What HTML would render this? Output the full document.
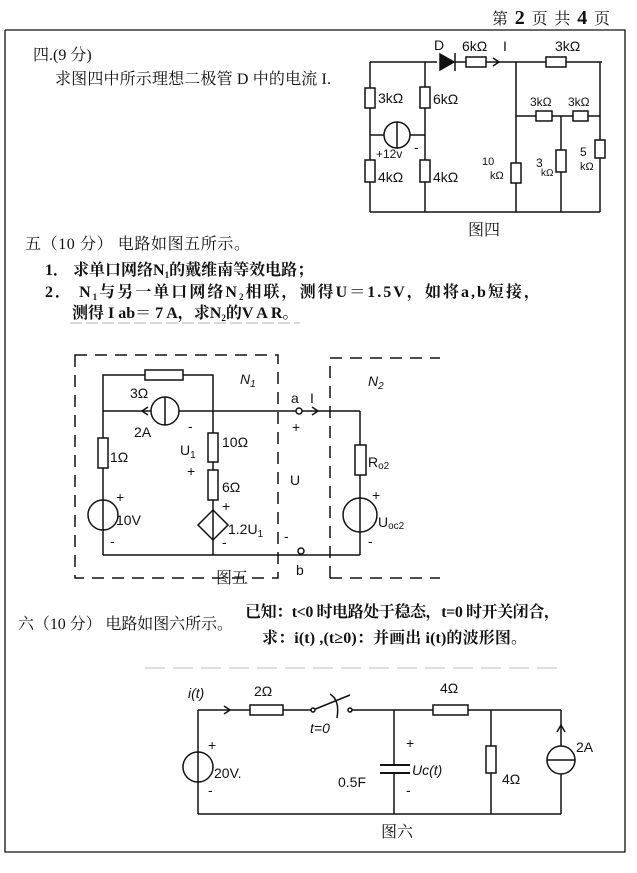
<!DOCTYPE html>
<html><head><meta charset="utf-8"><style>
html,body{margin:0;padding:0;background:#fff}
svg{display:block}
.t{font-family:"Liberation Serif","Noto Serif CJK SC","Noto Sans CJK SC",serif;font-size:16px;fill:#111}
.h{font-family:"Liberation Sans","Noto Sans CJK SC",sans-serif;font-size:14px;fill:#111}
</style></head><body>
<svg width="637" height="873" viewBox="0 0 637 873" xmlns="http://www.w3.org/2000/svg">
<g stroke="#111" stroke-width="1.5" fill="none">
<polyline points="5,30 625,30 625,852 5,852 5,30" stroke-width="1.3"/>
</g>
<text class="t" x="492" y="24" font-size="15" textLength="118">第 <tspan font-size="20" font-weight="bold">2</tspan> 页  共 <tspan font-size="20" font-weight="bold">4</tspan> 页</text>

<text class="t" x="33" y="60">四.(9 分)</text>
<text class="t" x="55" y="84" textLength="276">求图四中所示理想二极管 D 中的电流 I.</text>

<!-- Figure 4 -->
<g stroke="#111" stroke-width="1.5" fill="#fff">
<polyline points="370,62 437,62" fill="none"/>
<polyline points="455,62 602,62" fill="none"/>
<polygon points="440,54 440,70 454,62" fill="#111"/>
<line x1="455" y1="53" x2="455" y2="71"/>
<line x1="370" y1="62" x2="370" y2="212"/>
<line x1="425" y1="62" x2="425" y2="212"/>
<line x1="370" y1="212" x2="600" y2="212"/>
<line x1="370" y1="135" x2="425" y2="135"/>
<line x1="516" y1="62" x2="516" y2="212"/>
<line x1="600" y1="62" x2="600" y2="212"/>
<line x1="516" y1="116" x2="600" y2="116"/>
<line x1="561" y1="116" x2="561" y2="212"/>
<rect x="466" y="57" width="20" height="10"/>
<rect x="546" y="57" width="20" height="10"/>
<rect x="365" y="88" width="10" height="20"/>
<rect x="420" y="87" width="10" height="21"/>
<rect x="365" y="160" width="10" height="22"/>
<rect x="420" y="160" width="10" height="22"/>
<rect x="511" y="163" width="10" height="20"/>
<rect x="536" y="111" width="16" height="10"/>
<rect x="573" y="111" width="15" height="10"/>
<rect x="556" y="150" width="10" height="22"/>
<rect x="595" y="140" width="10" height="18"/>
<circle cx="397" cy="135" r="13"/>
<line x1="397" y1="122" x2="397" y2="148"/>
<polyline points="493,58 499,62 493,66" fill="none"/>
</g>
<g class="h" font-size="13">
<text x="434" y="50" font-size="14">D</text>
<text x="462" y="51">6kΩ</text>
<text x="503" y="51">I</text>
<text x="555" y="51">3kΩ</text>
<text x="378" y="103">3kΩ</text>
<text x="433" y="104">6kΩ</text>
<text x="376" y="158" font-size="12">+12v</text><text x="414" y="152">-</text>
<text x="378" y="182">4kΩ</text>
<text x="433" y="182">4kΩ</text>
<text x="482" y="165" font-size="11">10</text>
<text x="490" y="179" font-size="11">kΩ</text>
<text x="530" y="106" font-size="12">3kΩ</text>
<text x="568" y="106" font-size="12">3kΩ</text>
<text x="536" y="167" font-size="12">3</text><text x="541" y="176" font-size="10">kΩ</text>
<text x="580" y="156" font-size="12">5</text><text x="580" y="170" font-size="11">kΩ</text>
</g>
<text class="t" x="468" y="235" font-size="14">图四</text>

<text class="t" x="25" y="249" textLength="225">五（10 分）  电路如图五所示。</text>
<text class="t" x="45" y="275" font-weight="bold">1．    求单口网络N<tspan font-size="9" dy="3">1</tspan><tspan dy="-3">的戴维南等效电路；</tspan></text>
<text class="t" x="45" y="297" font-weight="bold" textLength="495">2．    N<tspan font-size="9" dy="3">1</tspan><tspan dy="-3">与另一单口网络N</tspan><tspan font-size="9" dy="3">2</tspan><tspan dy="-3">相联，测得U＝1.5V，如将a,b短接，</tspan></text>
<text class="t" x="72" y="318" font-weight="bold">测得 I ab＝ 7 A，求N<tspan font-size="9" dy="3">2</tspan><tspan dy="-3">的V A R。</tspan></text>
<line x1="70" y1="323" x2="300" y2="323" stroke="#999" stroke-dasharray="12,4" stroke-width="0.8"/>

<!-- Figure 5 -->
<g stroke="#111" stroke-width="1.5" fill="none" stroke-dasharray="12,8">
<rect x="75" y="355" width="203" height="223"/>
<polyline points="330,578 330,358 440,358"/>
<polyline points="330,578 440,578"/>
</g>
<g stroke="#111" stroke-width="1.5" fill="#fff">
<polyline points="103,411 103,375 213,375 213,411" fill="none"/>
<line x1="103" y1="411" x2="360" y2="411"/>
<line x1="103" y1="411" x2="103" y2="555"/>
<line x1="213" y1="411" x2="213" y2="555"/>
<line x1="103" y1="555" x2="360" y2="555"/>
<line x1="360" y1="411" x2="360" y2="555"/>
<rect x="145" y="370" width="38" height="10"/>
<circle cx="165" cy="411" r="14"/>
<line x1="165" y1="397" x2="165" y2="425"/>
<polyline points="148,407 142,411 148,415" fill="none"/>
<rect x="98" y="438" width="10" height="30"/>
<circle cx="103" cy="515" r="15"/>
<line x1="103" y1="500" x2="103" y2="530"/>
<rect x="208" y="433" width="10" height="29"/>
<rect x="208" y="470" width="10" height="30"/>
<polygon points="213,510 228,525 213,540 198,525"/>
<line x1="213" y1="510" x2="213" y2="540"/>
<rect x="355" y="445" width="11" height="30"/>
<circle cx="360" cy="515" r="17"/>
<line x1="360" y1="498" x2="360" y2="532"/>
<circle cx="299" cy="411" r="3"/>
<circle cx="301" cy="551" r="3"/>
<polyline points="312,407 318,411 312,415" fill="none"/>
</g>
<g class="h" font-size="15">
<text x="240" y="384" font-style="italic">N<tspan font-size="10" dy="3">1</tspan></text>
<text x="368" y="386" font-style="italic">N<tspan font-size="10" dy="3">2</tspan></text>
<text x="291" y="403">a</text><text x="310" y="403">I</text>
<text x="292" y="432">+</text>
<text x="290" y="485">U</text>
<text x="284" y="541">-</text>
<text x="296" y="575">b</text>
<text x="130" y="398">3Ω</text>
<text x="134" y="437">2A</text>
<text x="110" y="462">1Ω</text>
<text x="116" y="502">+</text>
<text x="116" y="525">10V</text>
<text x="110" y="546">-</text>
<text x="188" y="431">-</text>
<text x="180" y="455">U<tspan font-size="10" dy="3">1</tspan></text>
<text x="187" y="476">+</text>
<text x="222" y="447">10Ω</text>
<text x="222" y="492">6Ω</text>
<text x="222" y="511">+</text>
<text x="228" y="534">1.2U<tspan font-size="10" dy="3">1</tspan></text>
<text x="222" y="547">-</text>
<text x="368" y="467">R<tspan font-size="10" dy="2">o2</tspan></text>
<text x="372" y="500">+</text>
<text x="378" y="527">U<tspan font-size="10" dy="2">oc2</tspan></text>
<text x="368" y="546">-</text>
</g>
<text class="t" x="216" y="583" font-size="14">图五</text>

<text class="t" x="18" y="629" textLength="215">六（10 分）  电路如图六所示。</text>
<text class="t" x="245" y="617" font-weight="bold" textLength="315">已知：t&lt;0 时电路处于稳态，t=0 时开关闭合，</text>
<text class="t" x="262" y="643" font-weight="bold" textLength="265">求：i(t) ,(t≥0)：并画出 i(t)的波形图。</text>
<line x1="145" y1="668" x2="560" y2="668" stroke="#aaa" stroke-dasharray="20,8" stroke-width="0.8"/>

<!-- Figure 6 -->
<g stroke="#111" stroke-width="1.5" fill="#fff">
<line x1="198" y1="710" x2="313" y2="710"/>
<line x1="350" y1="710" x2="561" y2="710"/>
<line x1="313" y1="710" x2="350" y2="695"/>
<circle cx="313" cy="710" r="2"/>
<circle cx="350" cy="710" r="2"/>
<line x1="198" y1="710" x2="198" y2="814"/>
<line x1="198" y1="814" x2="561" y2="814"/>
<line x1="394" y1="710" x2="394" y2="765"/>
<line x1="394" y1="773" x2="394" y2="814"/>
<line x1="380" y1="765" x2="410" y2="765" stroke-width="2"/>
<line x1="380" y1="773" x2="410" y2="773" stroke-width="2"/>
<line x1="491" y1="710" x2="491" y2="814"/>
<line x1="561" y1="710" x2="561" y2="814"/>
<rect x="250" y="705" width="33" height="10"/>
<rect x="433" y="705" width="35" height="10"/>
<rect x="486" y="746" width="10" height="27"/>
<circle cx="198" cy="767" r="15"/>
<line x1="198" y1="752" x2="198" y2="782"/>
<circle cx="561" cy="760" r="14"/>
<line x1="547" y1="760" x2="575" y2="760"/>
<polyline points="557,732 561,725 565,732" fill="none"/>
<polyline points="224,706 230,710 224,714" fill="none"/>
<path d="M330,694 Q340,700 337,718" fill="none"/>
</g>
<g class="h" font-size="16">
<text x="188" y="698" font-style="italic">i(t)</text>
<text x="254" y="696">2Ω</text>
<text x="310" y="733" font-style="italic">t=0</text>
<text x="440" y="693">4Ω</text>
<text x="208" y="750">+</text>
<text x="214" y="778">20V.</text>
<text x="208" y="795">-</text>
<text x="406" y="748">+</text>
<text x="412" y="775" font-style="italic">Uc(t)</text>
<text x="338" y="787">0.5F</text>
<text x="406" y="795">-</text>
<text x="502" y="784">4Ω</text>
<text x="576" y="752">2A</text>
</g>
<text class="t" x="381" y="837" font-size="14">图六</text>
</svg>
</body></html>
